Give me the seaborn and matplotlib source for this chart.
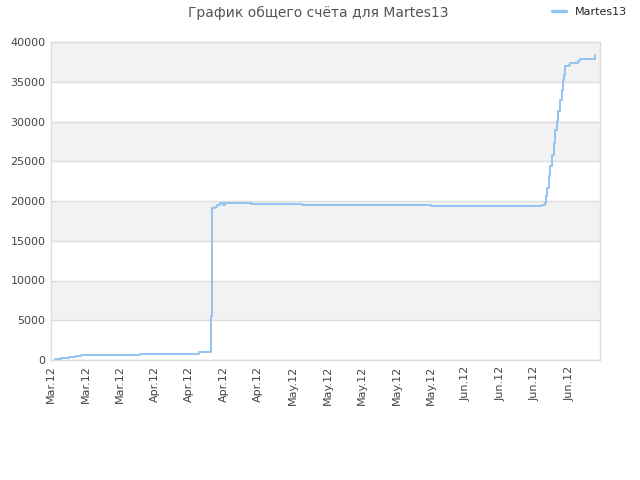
import pandas as pd
import matplotlib
matplotlib.use("Agg")
import matplotlib.pyplot as plt
import matplotlib.dates as mdates
import seaborn as sns

# Данные
timestamps = [
    "2012-03-13 18:00", "2012-03-14 23:00", "2012-03-16 17:00", "2012-03-18 03:00",
    "2012-03-19 01:00", "2012-03-30 23:00", "2012-04-11 22:00", "2012-04-14 12:00",
    "2012-04-14 16:00", "2012-04-15 05:00", "2012-04-15 16:00", "2012-04-16 08:00",
    "2012-04-16 22:00", "2012-04-17 05:00", "2012-04-22 10:00", "2012-05-02 22:00",
    "2012-05-29 00:00", "2012-06-20 10:00", "2012-06-21 02:00", "2012-06-21 05:00",
    "2012-06-21 10:00", "2012-06-21 19:00", "2012-06-22 02:00", "2012-06-22 11:00",
    "2012-06-22 19:00", "2012-06-23 02:00", "2012-06-23 11:00", "2012-06-23 19:00",
    "2012-06-24 02:00", "2012-06-24 10:00", "2012-06-24 19:00", "2012-06-25 00:00",
    "2012-06-25 02:00", "2012-06-26 00:00", "2012-06-26 04:00", "2012-06-27 19:00",
    "2012-06-28 05:00", "2012-07-01 05:00", "2012-07-01 06:00",
]
scores = [
    130, 290, 420, 545,
    670, 800, 1010, 5550,
    19100, 19300, 19500, 19700,
    19540, 19700, 19570, 19450,
    19330, 19530, 19750, 20580,
    21630, 23090, 24350, 25820,
    27290, 28970, 30010, 31270,
    32740, 34000, 35260, 35890,
    37020, 37140, 37360, 37560,
    37860, 38060, 38310,
]
player = "Martes13"
title = "График общего счёта для Martes13"
x_start = "2012-03-13"
x_end = "2012-07-02 05:00"

df = pd.DataFrame({"date": pd.to_datetime(timestamps), "score": scores})

sns.set_style("white")
plt.rcParams['font.family'] = ['DejaVu Sans']

fig = plt.figure(figsize=(6.4, 4.8), dpi=100)
ax = fig.add_axes([0.0797, 0.25, 0.8578, 0.6625])

# полосы фона
for low in range(5000, 40000, 10000):
    ax.axhspan(low, low + 5000, color="#f2f2f2", zorder=0, lw=0)

sns.lineplot(data=df, x="date", y="score", ax=ax, color="#92c4f2", lw=1.4,
             drawstyle="steps-post", label=player, zorder=3)

ax.set_ylim(0, 40000)
ax.set_yticks(range(0, 40001, 5000))
ax.set_xlim(pd.Timestamp(x_start), pd.Timestamp(x_end))
ax.set_xticks(pd.date_range(x_start, x_end, freq="7D"))
ax.xaxis.set_major_formatter(mdates.DateFormatter("%b.%y"))
ax.grid(axis="y", color="#dddddd", lw=1)
ax.set_axisbelow(True)
ax.set_xlabel("")
ax.set_ylabel("")
for s in ax.spines.values():
    s.set_color("#dddddd")
    s.set_linewidth(1)
ax.tick_params(axis="both", length=0, labelsize=8, labelcolor="#444444", pad=4)
plt.setp(ax.get_xticklabels(), rotation=90)

fig.text(0.497, 0.974, title, ha="center", va="center", fontsize=10, color="#555555")
leg = ax.legend(loc="center left", bbox_to_anchor=(0.905, 1.095), frameon=False,
                fontsize=8, handlelength=1.2, handletextpad=0.8, borderaxespad=0)
for line in leg.get_lines():
    line.set_linewidth(2.5)

fig.savefig("out.png", dpi=100)
